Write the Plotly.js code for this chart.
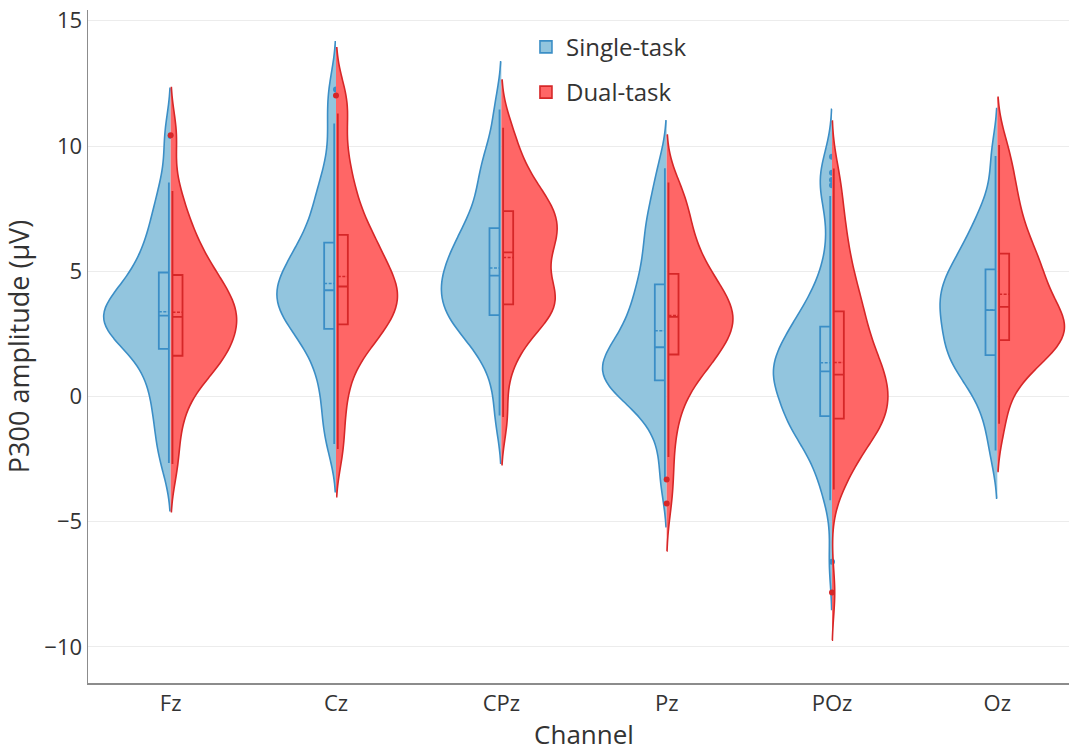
<!DOCTYPE html>
<html>
<head>
<meta charset="utf-8">
<script src="https://cdn.plot.ly/plotly-3.0.1.min.js"></script>
<style>html,body{margin:0;padding:0;background:#fff;overflow:hidden;width:1069px;height:752px;}#chart{width:1080px;height:752px;}</style>
</head>
<body>
<div id="chart"></div>
<script>
const channels = ['Fz', 'Cz', 'CPz', 'Pz', 'POz', 'Oz'];

// Single-task P300 amplitudes (µV) per channel
const singleFz  = [-2.66, -1.8, -1.0, -0.3, 0.3, 0.85, 1.35, 1.8, 2.0, 2.35, 2.55, 2.7, 2.85, 2.95, 3.05, 3.15, 3.3, 3.45, 3.6, 3.8, 4.0, 4.25, 4.5, 4.8, 5.1, 5.5, 5.9, 6.4, 7.0, 7.6, 8.54, 10.4];
const singleCz  = [-1.9, -1.0, -0.1, 0.7, 1.35, 1.85, 2.3, 2.6, 2.8, 3.05, 3.3, 3.5, 3.7, 3.9, 4.05, 4.18, 4.3, 4.5, 4.75, 5.0, 5.25, 5.5, 5.75, 5.98, 6.3, 6.8, 7.3, 7.9, 8.3, 9.3, 10.9, 12.26];
const singleCPz = [-0.76, 0.9, 1.7, 2.2, 2.6, 2.85, 3.05, 3.2, 3.3, 3.6, 3.8, 4.0, 4.2, 4.4, 4.6, 4.75, 4.9, 5.1, 5.35, 5.6, 5.85, 6.1, 6.35, 6.55, 6.9, 7.3, 7.8, 8.3, 8.9, 9.3, 10.0, 11.46];
const singlePz  = [-3.3, -1.6, -0.7, -0.2, 0.1, 0.3, 0.45, 0.58, 0.7, 0.85, 1.0, 1.15, 1.3, 1.5, 1.7, 1.88, 2.05, 2.3, 2.6, 2.9, 3.25, 3.6, 3.95, 4.25, 4.7, 5.2, 5.7, 6.3, 6.8, 7.3, 8.1, 9.11];
const singlePOz = [-6.6, -4.14, -3.6, -3.15, -2.75, -2.4, -2.1, -1.85, -1.65, -1.5, -1.35, -1.2, -1.1, -1.0, -0.9, -0.82,
                   -0.75, -0.6, -0.45, -0.3, -0.15, 0.0, 0.12, 0.25, 0.37, 0.48, 0.58, 0.68, 0.77, 0.85, 0.92, 0.98,
                   1.02, 1.1, 1.2, 1.3, 1.4, 1.5, 1.6, 1.72, 1.85, 1.98, 2.1, 2.22, 2.35, 2.48, 2.6, 2.72,
                   2.85, 3.0, 3.15, 3.35, 3.55, 3.8, 4.1, 4.45, 4.85, 5.6, 6.9, 8.0, 8.43, 8.64, 8.93, 9.57];
const singleOz  = [-2.16, -0.9, -0.1, 0.45, 0.85, 1.15, 1.35, 1.55, 1.75, 1.95, 2.2, 2.45, 2.7, 2.95, 3.15, 3.35, 3.55, 3.75, 3.95, 4.15, 4.35, 4.55, 4.75, 4.95, 5.2, 5.5, 5.85, 6.2, 6.6, 7.1, 7.8, 9.6];

// Dual-task P300 amplitudes (µV) per channel
const dualFz  = [-2.7, -1.2, -0.2, 0.5, 0.9, 1.2, 1.4, 1.55, 1.7, 1.95, 2.2, 2.45, 2.65, 2.85, 3.0, 3.1, 3.25, 3.45, 3.65, 3.85, 4.05, 4.25, 4.5, 4.75, 4.95, 5.3, 5.7, 6.1, 6.6, 7.2, 8.2, 10.43];
const dualCz  = [-2.1, -0.6, 0.6, 1.4, 1.95, 2.3, 2.55, 2.8, 2.95, 3.2, 3.45, 3.65, 3.85, 4.05, 4.2, 4.33, 4.45, 4.7, 4.95, 5.2, 5.5, 5.8, 6.05, 6.3, 6.6, 7.1, 7.6, 8.2, 8.9, 9.9, 11.3, 12.02];
const dualCPz = [-0.82, 1.2, 2.1, 2.6, 3.0, 3.25, 3.45, 3.6, 3.75, 3.9, 4.05, 4.25, 4.5, 4.9, 5.3, 5.65, 5.85, 6.1, 6.3, 6.5, 6.7, 6.9, 7.1, 7.3, 7.5, 7.75, 8.0, 8.3, 8.7, 9.2, 9.9, 10.73];
const dualPz  = [-4.27, -3.32, -2.42, -1.5, -0.9, -0.4, 0.0, 0.35, 0.6, 0.85, 1.05, 1.2, 1.35, 1.45, 1.55, 1.63,
                 1.72, 1.85, 1.98, 2.1, 2.22, 2.34, 2.45, 2.56, 2.67, 2.77, 2.86, 2.94, 3.01, 3.07, 3.12, 3.15,
                 3.2, 3.3, 3.4, 3.5, 3.6, 3.7, 3.8, 3.9, 4.0, 4.12, 4.25, 4.38, 4.5, 4.62, 4.73, 4.84,
                 4.95, 5.1, 5.3, 5.5, 5.7, 5.9, 6.1, 6.35, 6.6, 6.85, 7.1, 7.4, 7.7, 8.0, 8.25, 8.54];
const dualPOz = [-7.83, -3.71, -3.3, -2.95, -2.65, -2.4, -2.15, -1.95, -1.75, -1.6, -1.45, -1.3, -1.18, -1.07, -0.97, -0.92,
                 -0.85, -0.72, -0.6, -0.48, -0.36, -0.25, -0.14, -0.03, 0.08, 0.2, 0.32, 0.44, 0.56, 0.67, 0.77, 0.84,
                 0.9, 1.02, 1.15, 1.3, 1.45, 1.6, 1.75, 1.9, 2.05, 2.2, 2.38, 2.56, 2.74, 2.92, 3.1, 3.3,
                 3.5, 3.7, 3.9, 4.1, 4.35, 4.6, 4.9, 5.2, 5.55, 5.9, 6.3, 6.75, 7.2, 7.8, 8.4, 9.1];
const dualOz  = [-1.09, 0.3, 0.95, 1.35, 1.65, 1.85, 2.0, 2.15, 2.35, 2.5, 2.65, 2.8, 2.95, 3.1, 3.25, 3.45, 3.7, 3.95, 4.2, 4.5, 4.8, 5.05, 5.3, 5.55, 5.85, 6.25, 6.7, 7.2, 7.75, 8.4, 9.1, 10.04];

const singleGroups = [singleFz, singleCz, singleCPz, singlePz, singlePOz, singleOz];
const dualGroups = [dualFz, dualCz, dualCPz, dualPz, dualPOz, dualOz];

function flatten(groups) {
  const x = [], y = [];
  groups.forEach((vals, i) => vals.forEach(v => { x.push(channels[i]); y.push(v); }));
  return {x, y};
}

const s = flatten(singleGroups);
const d = flatten(dualGroups);

const common = {
  type: 'violin',
  points: 'outliers',
  box: {visible: true, width: 0.3, line: {width: 1.8}},
  meanline: {visible: true, width: 1.5},
  width: 0.81,
  bandwidth: 0.95,
  scalemode: 'width',
  hoveron: 'violins'
};

const traces = [
  Object.assign({}, common, {
    x: s.x, y: s.y, name: 'Single-task', side: 'negative', scalegroup: 'single', legendgroup: 'single',
    line: {color: '#3b8ec6', width: 1.6},
    fillcolor: '#92c5de',
    marker: {color: '#3b8ec6', size: 6}
  }),
  Object.assign({}, common, {
    x: d.x, y: d.y, name: 'Dual-task', side: 'positive', scalegroup: 'dual', legendgroup: 'dual',
    line: {color: '#d62728', width: 1.6},
    fillcolor: '#ff6666',
    marker: {color: '#d62728', size: 6}
  })
];

const layout = {
  width: 1080, height: 752,
  margin: {l: 88, r: 0, t: 10, b: 69},
  paper_bgcolor: '#fff', plot_bgcolor: '#fff',
  font: {family: 'Open Sans, sans-serif', color: '#333', size: 22},
  violinmode: 'overlay',
  showlegend: true,
  legend: {x: 0.4415, y: 0.978, xanchor: 'left', yanchor: 'top', traceorder: 'grouped', tracegroupgap: 11,
           font: {size: 24, color: '#333'}, bgcolor: 'rgba(0,0,0,0)'},
  xaxis: {
    type: 'category', categoryorder: 'array', categoryarray: channels,
    range: [-0.5, 5.5],
    showgrid: false, zeroline: false,
    showline: true, linecolor: '#8c8c8c', linewidth: 1.5,
    ticks: '', tickfont: {size: 22, color: '#333'},
    title: {text: 'Channel', font: {size: 26, color: '#333'}, standoff: 12}
  },
  yaxis: {
    range: [-11.44, 15.43], dtick: 5, tick0: 0,
    showgrid: true, gridcolor: '#ececec', gridwidth: 1,
    zeroline: false,
    showline: true, linecolor: '#8c8c8c', linewidth: 1.5,
    ticks: '', tickfont: {size: 22, color: '#333'},
    title: {text: 'P300 amplitude (μV)', font: {size: 27, color: '#333'}, standoff: 7}
  }
};

Plotly.newPlot('chart', traces, layout, {displayModeBar: false, staticPlot: true});
</script>
</body>
</html>
